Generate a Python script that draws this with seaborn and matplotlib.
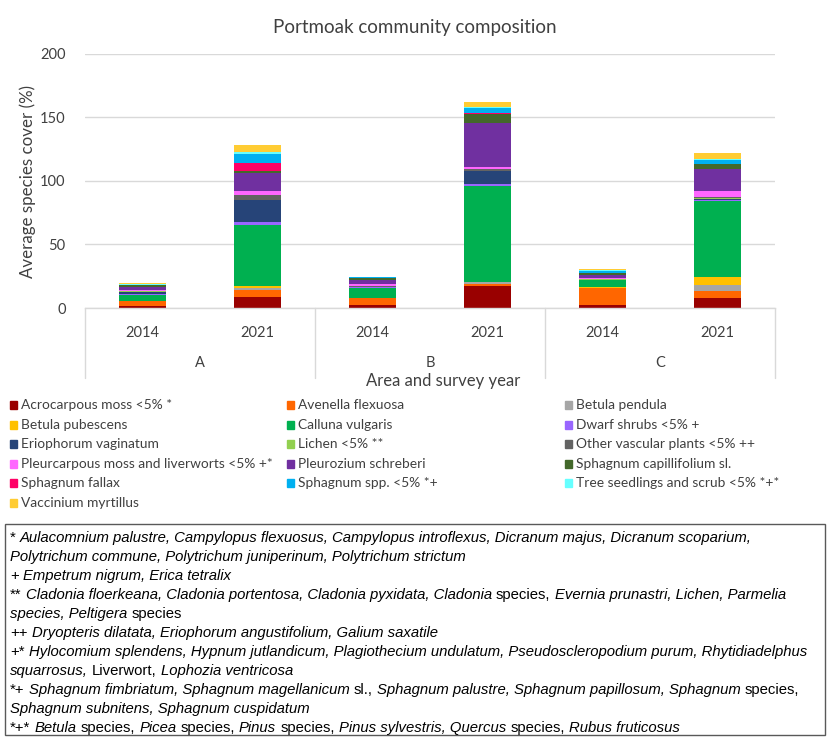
import numpy as np
import pandas as pd
import matplotlib
matplotlib.use("Agg")
import matplotlib.pyplot as plt
import seaborn as sns
from matplotlib.patches import Rectangle
from matplotlib.transforms import blended_transform_factory

sns.set_theme(style="white")
plt.rcParams['font.family'] = ['Lato', 'DejaVu Sans']

# species (stack order, bottom -> top)
SPECIES = ['Acrocarpous moss <5% *', 'Avenella flexuosa', 'Betula pendula',
           'Betula pubescens', 'Calluna vulgaris', 'Dwarf shrubs <5% +',
           'Eriophorum vaginatum', 'Lichen <5% **', 'Other vascular plants <5% ++',
           'Pleurcarpous moss and liverworts <5% +*', 'Pleurozium schreberi',
           'Sphagnum capillifolium sl.', 'Sphagnum fallax', 'Sphagnum spp. <5% *+',
           'Tree seedlings and scrub <5% *+*', 'Vaccinium myrtillus']
COLOURS = ['#990000', '#FF6600', '#A6A6A6', '#FFC000', '#00B050', '#9966FF',
           '#264478', '#92D050', '#636363', '#FF66FF', '#7030A0', '#43682B',
           '#FF0066', '#00B0F0', '#66FFFF', '#FFCC33']

AREAS = ['A', 'B', 'C']
YEARS = ['2014', '2021']

# average cover per species, one list per area/year bar
A_2014 = [1.6, 3.7, 0.0, 0.3, 5.0, 0.3, 1.8, 0.3, 0.3, 0.8, 2.6, 1.5, 0.0, 0.3, 0.2, 1.0]
A_2021 = [8.6, 5.5, 1.3, 2.3, 48.0, 2.0, 17.2, 0.2, 3.7, 3.1, 14.6, 1.6, 5.7, 7.6, 1.8, 5.0]
B_2014 = [2.4, 5.5, 0.0, 0.2, 8.0, 0.3, 0.3, 0.2, 0.3, 1.8, 3.4, 1.2, 0.0, 0.6, 0.2, 0.3]
B_2021 = [17.3, 1.3, 1.5, 0.5, 75.6, 1.6, 10.0, 0.2, 1.3, 2.1, 34.6, 7.1, 0.5, 3.7, 1.3, 3.4]
C_2014 = [2.1, 13.6, 0.3, 0.3, 5.5, 0.3, 0.3, 0.2, 0.3, 0.8, 2.1, 1.8, 0.0, 1.6, 0.6, 1.0]
C_2021 = [7.6, 5.5, 4.7, 6.3, 60.3, 0.5, 1.3, 0.5, 1.0, 4.7, 17.0, 4.2, 0.0, 2.6, 1.3, 4.2]

BARS = [A_2014, A_2021, B_2014, B_2021, C_2014, C_2021]
BAR_IDS = [f"{a} {y}" for a in AREAS for y in YEARS]

rows = []
for bar_id, vals in zip(BAR_IDS, BARS):
    for sp, v in zip(SPECIES, vals):
        rows.append({'bar': bar_id, 'species': sp, 'cover': v})
df = pd.DataFrame(rows)

W, H = 830, 740
fig = plt.figure(figsize=(W / 100, H / 100), dpi=100)

def fx(x):
    return x / W

def fy(y):
    return 1 - y / H

ax = fig.add_axes([fx(85), fy(308), fx(775) - fx(85), (308 - 54) / H])

bottom = np.zeros(len(BAR_IDS))
for sp, col in zip(SPECIES, COLOURS):
    sub = df[df['species'] == sp]
    sns.barplot(data=sub, x='bar', y='cover', order=BAR_IDS, color=col,
                saturation=1, width=0.41, errorbar=None, bottom=bottom,
                linewidth=0, ax=ax)
    bottom = bottom + sub.set_index('bar').loc[BAR_IDS, 'cover'].values

grid_col = '#D9D9D9'
ax.set_ylim(0, 200)
ax.set_xlim(-0.5, 5.5)
ax.set_yticks([0, 50, 100, 150, 200])
ax.yaxis.grid(True, color=grid_col, linewidth=1)
ax.set_axisbelow(True)
for s in ['top', 'right', 'left']:
    ax.spines[s].set_visible(False)
ax.spines['bottom'].set_color(grid_col)
ax.spines['bottom'].set_linewidth(1)
ax.tick_params(axis='both', length=0, labelsize=10.5, colors='#404040')
ax.tick_params(axis='y', pad=14)
ax.set_xticks(range(len(BAR_IDS)))
ax.set_xticklabels(YEARS * len(AREAS))
ax.tick_params(axis='x', pad=13)
ax.set_xlabel('')
ax.set_ylabel('Average species cover (%)', fontsize=12.2, color='#404040', labelpad=3)

# second level of category axis: area labels and dividers
trans = blended_transform_factory(ax.transData, ax.transAxes)
drop = (378 - 308) / 254
for b in [-0.5, 1.5, 3.5, 5.5]:
    ax.plot([b, b], [0, -drop], transform=trans, color=grid_col, lw=1, clip_on=False)
for i, a in enumerate(AREAS):
    ax.text(2 * i + 0.5, -(363 - 308) / 254, a, transform=trans, ha='center',
            va='center', fontsize=10.5, color='#404040')

fig.text(fx(443), fy(381), 'Area and survey year', ha='center', va='center',
         fontsize=12, color='#404040')
fig.text(fx(415), fy(27), 'Portmoak community composition', ha='center',
         va='center', fontsize=13.5, color='#404040')

# legend, filled row by row in three columns
col_x = [10, 287, 565]
row_y = [405, 425, 444, 464, 483, 503]
for i, (sp, col) in enumerate(zip(SPECIES, COLOURS)):
    r, c = divmod(i, 3)
    x0, y0 = col_x[c], row_y[r]
    fig.patches.append(Rectangle((fx(x0), fy(y0 + 4)), 7 / W, 8 / H,
                                 transform=fig.transFigure, color=col))
    fig.text(fx(x0 + 11), fy(y0), sp, ha='left', va='center', fontsize=9.9,
             color='#404040')

# footnote box
fig.patches.append(Rectangle((fx(5), fy(735)), 820 / W, (735 - 524) / H,
                             transform=fig.transFigure, fill=False,
                             edgecolor='#595959', lw=1))

NOTES = [
    [('*', False), ('Aulacomnium palustre, Campylopus flexuosus, Campylopus introflexus, Dicranum majus, Dicranum scoparium,', True)],
    [('Polytrichum commune, Polytrichum juniperinum, Polytrichum strictum', True)],
    [('+', False), ('Empetrum nigrum, Erica tetralix', True)],
    [('**', False), ('Cladonia floerkeana, Cladonia portentosa, Cladonia pyxidata, Cladonia', True),
     ('species,', False), ('Evernia prunastri, Lichen, Parmelia', True)],
    [('species, Peltigera', True), ('species', False)],
    [('++', False), ('Dryopteris dilatata, Eriophorum angustifolium, Galium saxatile', True)],
    [('+*', False), ('Hylocomium splendens, Hypnum jutlandicum, Plagiothecium undulatum, Pseudoscleropodium purum, Rhytidiadelphus', True)],
    [('squarrosus,', True), ('Liverwort,', False), ('Lophozia ventricosa', True)],
    [('*+', False), ('Sphagnum fimbriatum, Sphagnum magellanicum', True), ('sl.,', False),
     ('Sphagnum palustre, Sphagnum papillosum, Sphagnum', True), ('species,', False)],
    [('Sphagnum subnitens, Sphagnum cuspidatum', True)],
    [('*+*', False), ('Betula', True), ('species,', False), ('Picea', True), ('species,', False),
     ('Pinus', True), ('species,', False), ('Pinus sylvestris, Quercus', True), ('species,', False),
     ('Rubus fruticosus', True)],
]

note_font = dict(family=['Liberation Sans Narrow', 'Liberation Sans'], fontsize=10.7,
                 color='black')
renderer = fig.canvas.get_renderer()
t1 = fig.text(0, 0, 'x x', **note_font)
t2 = fig.text(0, 0, 'xx', **note_font)
space_w = t1.get_window_extent(renderer).width - t2.get_window_extent(renderer).width
t1.remove()
t2.remove()

line_y0, line_dy = 538, 19
for k, line in enumerate(NOTES):
    x = 10
    y = line_y0 + k * line_dy
    for txt, ital in line:
        t = fig.text(fx(x), fy(y), txt, ha='left', va='center',
                     style='italic' if ital else 'normal', **note_font)
        x += t.get_window_extent(renderer).width + space_w

fig.savefig('out.png', dpi=100)
